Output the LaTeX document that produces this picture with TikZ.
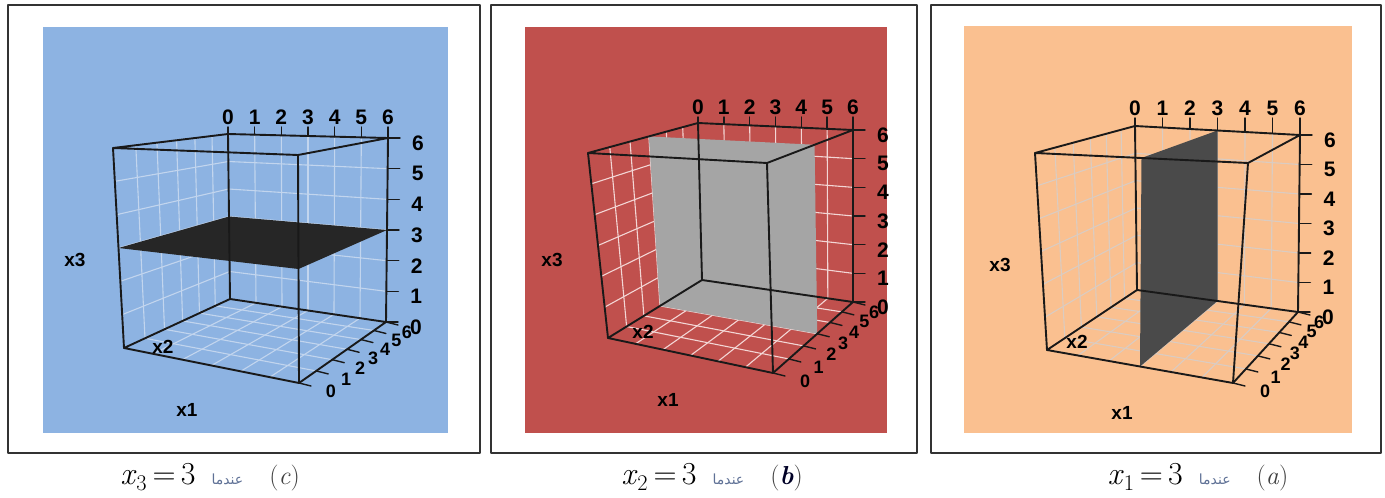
\documentclass[tikz,border=0pt]{standalone}
\usepackage{fontspec}
\newfontfamily\plotfont{Liberation Sans}
\newfontfamily\arabicfont[Script=Arabic]{DejaVu Sans}
\TeXXeTstate=1
\usetikzlibrary{calc}

\definecolor{bgblue}{HTML}{8DB3E2}
\definecolor{bgred}{HTML}{C0504D}
\definecolor{bgorange}{HTML}{FAC090}
\definecolor{planc}{HTML}{262626}
\definecolor{planb}{HTML}{A5A5A5}
\definecolor{plana}{HTML}{4A4A4A}
\definecolor{gridc}{HTML}{C2D5EE}
\definecolor{gridb}{HTML}{F3D6D5}
\definecolor{grida}{HTML}{DACCC2}
\definecolor{arabgray}{HTML}{5F7196}

% grille des trois faces du fond (pas raccourci en x2 : perspective)
\newcommand{\drawgrid}[2]{%
  \foreach \i in {1,...,5}{
    \draw[gridline,#2] ($(#1060)!\i/6!(#1660)$) -- ($(#1066)!\i/6!(#1666)$);
    \draw[gridline,#2] ($(#1060)!\i/6!(#1066)$) -- ($(#1660)!\i/6!(#1666)$);
    \draw[gridline,#2] ($(#1000)!\i/6!(#1006)$) -- ($(#1060)!\i/6!(#1066)$);
    \draw[gridline,#2] ($(#1000)!\i/6!(#1600)$) -- ($(#1060)!\i/6!(#1660)$);
  }
  \foreach \f in {.198,.382,.553,.712,.861}{
    \draw[gridline,#2] ($(#1000)!\f!(#1060)$) -- ($(#1006)!\f!(#1066)$);
    \draw[gridline,#2] ($(#1000)!\f!(#1060)$) -- ($(#1600)!\f!(#1660)$);
  }
}
% les 12 aretes de la boite
\newcommand{\drawedges}[1]{%
  \draw[boxedge] (#1000) -- (#1600) -- (#1660) -- (#1060) -- cycle;
  \draw[boxedge] (#1006) -- (#1606) -- (#1666) -- (#1066) -- cycle;
  \draw[boxedge] (#1000) -- (#1006) (#1600) -- (#1606) (#1660) -- (#1666) (#1060) -- (#1066);
}
% graduations x1 (haut), x3 (droite), x2 (bas)
\newcommand{\drawaxes}[2]{%
  \coordinate (#1lab) at (0,#2);
  \coordinate (#1tic) at (0,#2+10);
  \foreach \i in {0,...,6}{
    \coordinate (#1t\i) at ($(#1066)!\i/6!(#1666)$);
    \draw[tickmark] (#1t\i) -- (#1t\i |- #1tic);
    \node[ticklabel] (#1tl\i) at (#1t\i |- #1lab) {\i};
  }
  \foreach \i/\f in {0/0,1/.198,2/.382,3/.553,4/.712,5/.861,6/1}{
    \coordinate (#1y\i) at ($(#1600)!\f!(#1660)$);
    \draw[tickmark] (#1y\i) -- ++(12,3);
    \node[ticklabel,font=\plotfont\bfseries\fontsize{18}{18}\selectfont] (#1yl\i) at ($(#1y\i)+({32-11*\f},{8+2*\f})$) {\i};
  }
  \foreach \i in {0,...,6}{
    \coordinate (#1z\i) at ($(#1660)!\i/6!(#1666)$);
    \draw[tickmark] (#1z\i) -- ++(12,0);
    \node[ticklabel] (#1zl\i) at ($(#1z\i)+(30,5)$) {\i};
  }
}
% legende : x_k = 3 puis le mot arabe puis (lettre)
\newcommand{\legend}[2]{%
  \textit{x}\textsubscript{#1}\,=\,3\hspace{16pt}{\arabicfont\fontsize{14}{14}\selectfont\color{arabgray}\beginR عندما\endR}\hspace{26pt}{\fontsize{26}{26}\selectfont\color{black!75}(#2)}}

\begin{document}
\begin{tikzpicture}[x=1pt,y=-1pt,line cap=round,line join=round,
    boxedge/.style={line width=1.9pt,black!90},
    gridline/.style={line width=1.1pt},
    tickmark/.style={line width=1.4pt,black!90},
    ticklabel/.style={font=\plotfont\bfseries\fontsize{21}{21}\selectfont,inner sep=0pt},
    axislabel/.style={font=\plotfont\bfseries\fontsize{19}{19}\selectfont,inner sep=0pt},
    cadre/.style={draw=black!80,line width=2.2pt},
    legende/.style={font=\fontsize{32}{34}\selectfont,inner sep=0pt}]
\useasboundingbox (0,0) rectangle (1385,498);

%%% (c) plan x3 = 3
\draw[cadre] (8,5) rectangle (480,453);
\fill[bgblue] (43,27) rectangle (448,433);
\coordinate (c000) at (124,348);
\coordinate (c600) at (299,383);
\coordinate (c660) at (386,322);
\coordinate (c060) at (230,299);
\coordinate (c006) at (113,148);
\coordinate (c606) at (298,155);
\coordinate (c666) at (388,138);
\coordinate (c066) at (228,134);
\drawgrid{c}{gridc}
\fill[planc] ($(c000)!.5!(c006)$) -- ($(c600)!.5!(c606)$) -- ($(c660)!.5!(c666)$) -- ($(c060)!.5!(c066)$) -- cycle;
\drawedges{c}
\drawaxes{c}{117}
\node[axislabel] (cx3) at (75,260) {x3};
\node[axislabel] (cx2) at (163,347) {x2};
\node[axislabel] (cx1) at (187,410) {x1};
\node[legende] (capc) at (210,477) {\legend{3}{\textit{c}}};

%%% (b) plan x2 = 3
\draw[cadre] (491,5) rectangle (917,453);
\fill[bgred] (525,27) rectangle (887,433);
\coordinate (b000) at (608,338);
\coordinate (b600) at (773,373);
\coordinate (b660) at (853,302);
\coordinate (b060) at (702,280);
\coordinate (b006) at (588,153);
\coordinate (b606) at (767,163);
\coordinate (b666) at (853,130);
\coordinate (b066) at (698,123);
\drawgrid{b}{gridb}
\fill[planb] ($(b000)!.553!(b060)$) -- ($(b600)!.553!(b660)$) -- ($(b606)!.553!(b666)$) -- ($(b006)!.553!(b066)$) -- cycle;
\drawedges{b}
\drawaxes{b}{107}
\node[axislabel] (bx3) at (552,260) {x3};
\node[axislabel] (bx2) at (643,332) {x2};
\node[axislabel] (bx1) at (668,400) {x1};
\node[legende] (capb) at (712,477) {\legend{2}{\textcolor{black!85!blue}{\textbf{\textit{b}}}}};

%%% (a) plan x1 = 3
\draw[cadre] (931,5) rectangle (1381,453);
\fill[bgorange] (964,26) rectangle (1352,433);
\coordinate (a000) at (1047,350);
\coordinate (a600) at (1233,383);
\coordinate (a660) at (1298,312);
\coordinate (a060) at (1137,290);
\coordinate (a006) at (1035,153);
\coordinate (a606) at (1248,163);
\coordinate (a666) at (1300,135);
\coordinate (a066) at (1135,126);
\drawgrid{a}{grida}
\fill[plana] ($(a000)!.5!(a600)$) -- ($(a060)!.5!(a660)$) -- ($(a066)!.5!(a666)$) -- ($(a006)!.5!(a606)$) -- cycle;
\drawedges{a}
\drawaxes{a}{108}
\node[axislabel] (ax3) at (1000,265) {x3};
\node[axislabel] (ax2) at (1077,342) {x2};
\node[axislabel] (ax1) at (1122,413) {x1};
\node[legende] (capa) at (1198,477) {\legend{1}{\textit{a}}};
\end{tikzpicture}
\end{document}
